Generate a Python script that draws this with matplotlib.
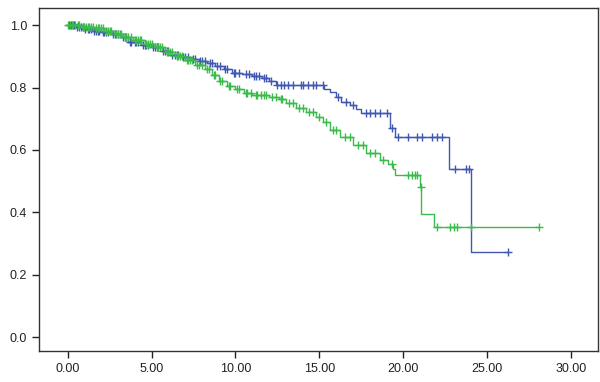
import matplotlib
matplotlib.use("Agg")
import matplotlib.pyplot as plt
import numpy as np

# Kaplan-Meier curves
blue_times = [0, 0.5, 1.0, 1.5, 2.0, 2.6, 3.2, 3.6, 4.4, 5.0, 5.6, 6.1, 6.8, 7.3, 7.8, 8.3,
              8.8, 9.3, 9.8, 10.4, 11.0, 11.6, 12.0, 12.4, 15.3, 15.6, 16.0, 16.3, 16.8,
              17.2, 17.5, 19.2, 19.5, 22.7, 24.0]
blue_surv = [1.0, 0.995, 0.988, 0.982, 0.978, 0.972, 0.962, 0.945, 0.938, 0.93, 0.918,
             0.905, 0.898, 0.89, 0.885, 0.878, 0.87, 0.858, 0.848, 0.842, 0.838, 0.83,
             0.82, 0.808, 0.796, 0.785, 0.77, 0.754, 0.745, 0.73, 0.718, 0.67, 0.642,
             0.538, 0.272]
blue_end = 26.2
blue_censored = [0.1, 0.2, 0.3, 0.4, 0.55, 0.7, 0.8, 0.9, 1.05, 1.2, 1.3, 1.4, 1.6, 1.7,
                 1.8, 1.9, 2.1, 2.2, 2.3, 2.4, 2.7, 2.8, 2.9, 3.0, 3.3, 3.4, 3.5, 3.7,
                 3.8, 4.0, 4.1, 4.2, 4.5, 4.6, 4.7, 4.8, 5.1, 5.2, 5.3, 5.4, 5.7, 5.8,
                 5.9, 6.0, 6.2, 6.4, 6.5, 6.6, 6.9, 7.0, 7.2, 7.5, 7.6, 7.9, 8.0, 8.2,
                 8.5, 8.6, 8.9, 9.1, 9.4, 9.5, 9.9, 10.0, 10.2, 10.6, 10.8, 11.1, 11.2,
                 11.4, 11.7, 11.8, 12.1, 12.5, 12.7, 12.9, 13.1, 13.4, 13.9, 14.0, 14.3,
                 14.6, 14.8, 15.2, 16.1, 16.6, 17.0, 17.8, 18.0, 18.3, 18.6, 19.0, 19.3,
                 19.7, 20.3, 20.8, 21.1, 21.7, 22.0, 22.3, 23.1, 23.7, 23.9, 26.2]

green_times = [0, 0.8, 1.6, 2.2, 2.8, 3.3, 3.9, 4.6, 5.2, 5.8, 6.4, 7.0, 7.6, 8.2, 8.6,
               9.0, 9.5, 10.0, 10.5, 11.0, 12.0, 12.6, 13.0, 13.6, 14.2, 14.8, 15.2,
               15.6, 16.2, 17.0, 17.8, 18.6, 19.1, 19.4, 19.5, 21.0, 21.05, 21.8]
green_surv = [1.0, 0.995, 0.99, 0.982, 0.972, 0.962, 0.952, 0.94, 0.93, 0.915, 0.9,
              0.888, 0.872, 0.86, 0.84, 0.82, 0.805, 0.795, 0.782, 0.776, 0.77, 0.762,
              0.75, 0.735, 0.72, 0.706, 0.69, 0.663, 0.642, 0.615, 0.59, 0.567, 0.555,
              0.54, 0.519, 0.482, 0.394, 0.352]
green_end = 28.1
green_censored = [0.05, 0.15, 0.25, 0.35, 0.45, 0.6, 0.7, 0.9, 1.0, 1.1, 1.2, 1.3, 1.4,
                  1.5, 1.7, 1.8, 1.9, 2.0, 2.1, 2.3, 2.4, 2.5, 2.6, 2.9, 3.0, 3.1, 3.2,
                  3.4, 3.5, 3.6, 3.8, 4.0, 4.1, 4.2, 4.3, 4.4, 4.7, 4.8, 4.9, 5.0, 5.3,
                  5.4, 5.5, 5.6, 5.9, 6.0, 6.1, 6.2, 6.5, 6.6, 6.7, 6.8, 7.1, 7.2, 7.3,
                  7.4, 7.7, 7.8, 8.0, 8.3, 8.4, 8.7, 8.8, 9.1, 9.2, 9.6, 9.7, 10.1, 10.2,
                  10.6, 10.7, 10.9, 11.2, 11.3, 11.5, 11.7, 11.8, 12.2, 12.4, 12.7, 12.8,
                  13.2, 13.4, 13.8, 14.0, 14.4, 14.6, 15.0, 15.4, 15.8, 16.0, 16.5, 16.8,
                  17.3, 17.6, 18.0, 18.3, 18.8, 19.3, 20.3, 20.5, 20.7, 20.8, 21.02,
                  22.0, 22.8, 23.0, 23.2, 24.0, 28.1]

x_ticks = [0, 5, 10, 15, 20, 25, 30]
y_ticks = [0.0, 0.2, 0.4, 0.6, 0.8, 1.0]

BLUE = "#4158b2"
GREEN = "#3bbb4c"

plt.rcParams["font.family"] = ["Liberation Sans", "DejaVu Sans"]

fig = plt.figure(figsize=(6, 3.82), dpi=100)
ax = fig.add_axes([0.065, 0.081, 0.932, 0.898])


def km(ax, times, surv, end, cens, color):
    t = list(times) + [end]
    s = list(surv) + [surv[-1]]
    ax.step(t, s, where="post", color=color, lw=1.0, zorder=3)
    idx = np.searchsorted(times, cens, side="right") - 1
    ys = np.array(surv)[idx]
    ax.plot(cens, ys, ls="none", marker="+", ms=5.5, mew=1.0, color=color, zorder=3)


km(ax, blue_times, blue_surv, blue_end, blue_censored, BLUE)
km(ax, green_times, green_surv, green_end, green_censored, GREEN)

ax.set_xlim(-1.7, 31.6)
ax.set_ylim(-0.045, 1.055)
ax.set_xticks(x_ticks)
ax.set_xticklabels(["%.2f" % v for v in x_ticks])
ax.set_yticks(y_ticks)
ax.set_yticklabels(["%.1f" % v for v in y_ticks])
ax.tick_params(direction="out", length=5, width=1, labelsize=9, colors="#222222")
for sp in ax.spines.values():
    sp.set_color("#333333")
    sp.set_linewidth(1)

fig.savefig("out.png", dpi=100)
